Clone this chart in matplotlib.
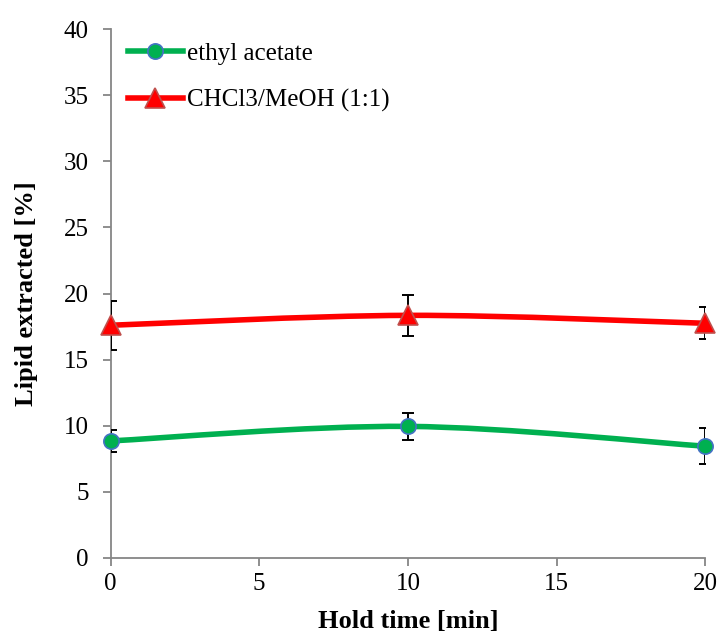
import numpy as np
import matplotlib
matplotlib.use("Agg")
import matplotlib.pyplot as plt
from matplotlib.path import Path
from matplotlib.patches import PathPatch
from matplotlib.lines import Line2D

plt.rcParams["font.family"] = ["Liberation Serif", "DejaVu Serif"]

hold_time = [0, 10, 20]
ethyl_acetate = [8.85, 9.95, 8.45]
ethyl_acetate_err = [0.8, 1.0, 1.35]
chcl3_meoh = [17.6, 18.35, 17.75]
chcl3_meoh_err = [1.85, 1.55, 1.2]

GREEN = "#00B050"
RED = "#FF0000"
AXIS = "#868686"


def smooth_path(x, y):
    # Catmull-Rom style Bezier segments, like spreadsheet "smoothed line"
    x = np.asarray(x, float)
    y = np.asarray(y, float)
    pts = np.column_stack([x, y])
    verts = [pts[0]]
    codes = [Path.MOVETO]
    n = len(pts)
    for i in range(n - 1):
        p0 = pts[max(i - 1, 0)]
        p1 = pts[i]
        p2 = pts[i + 1]
        p3 = pts[min(i + 2, n - 1)]
        c1 = p1 + (p2 - p0) / 6.0
        c2 = p2 - (p3 - p1) / 6.0
        verts += [c1, c2, p2]
        codes += [Path.CURVE4] * 3
    return Path(verts, codes)


fig = plt.figure(figsize=(7.2, 6.34), dpi=100)
ax = fig.add_axes([0.1535, 0.12, 0.826, 0.834])

series = [
    (ethyl_acetate, ethyl_acetate_err, GREEN, "o", GREEN, "#4472C4", 11, "ethyl acetate"),
    (chcl3_meoh, chcl3_meoh_err, RED, "^", RED, "#C0504D", 14, "CHCl3/MeOH (1:1)"),
]
handles = []
for vals, err, col, mk, mfc, mec, ms, label in series:
    ax.add_patch(PathPatch(smooth_path(hold_time, vals), fill=False, edgecolor=col,
                           lw=4.0, capstyle="round", zorder=2))
    ax.errorbar(hold_time, vals, yerr=err, fmt="none", ecolor="black", elinewidth=1.4,
                capsize=4, capthick=1.4, zorder=3)
    ax.plot(hold_time, vals, linestyle="none", marker=mk, ms=ms, mfc=mfc, mec=mec,
            mew=1.2, zorder=4, clip_on=False)
    handles.append(Line2D([], [], color=col, lw=4.0, marker=mk, ms=ms, mfc=mfc,
                          mec=mec, mew=1.2, label=label))

ax.set_xlim(0, 20)
ax.set_ylim(0, 40)
ax.set_xticks([0, 5, 10, 15, 20])
ax.set_yticks(range(0, 41, 5))
for side in ("top", "right"):
    ax.spines[side].set_visible(False)
for side in ("left", "bottom"):
    ax.spines[side].set_color(AXIS)
    ax.spines[side].set_linewidth(1.3)
ax.tick_params(axis="both", direction="out", length=5.5, width=1.3, color=AXIS,
               labelsize=18)
ax.tick_params(axis="y", pad=10)
ax.tick_params(axis="x", pad=5)

ax.set_xlabel("Hold time [min]", fontsize=19, fontweight="bold", labelpad=11)
ax.set_ylabel("Lipid extracted [%]", fontsize=19, fontweight="bold", labelpad=19)

ax.legend(handles=handles, loc="upper left", bbox_to_anchor=(0.029, 0.975), frameon=False,
          fontsize=18, handlelength=2.2, handletextpad=0.16, borderaxespad=0,
          borderpad=0, labelspacing=0.97)

fig.savefig("out.png", dpi=100)
